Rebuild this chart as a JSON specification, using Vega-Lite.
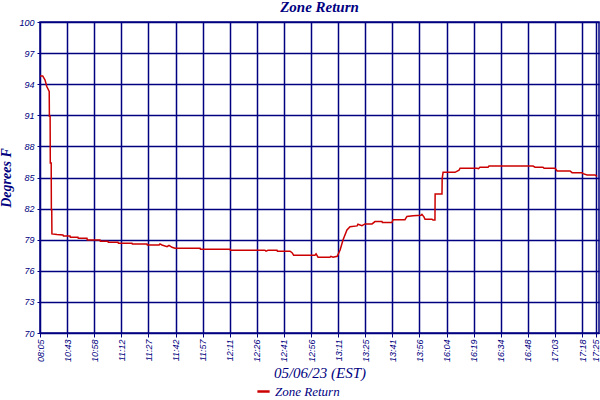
{
  "$schema": "https://vega.github.io/schema/vega-lite/v6.json",
  "autosize": "none",
  "width": 559,
  "height": 311,
  "padding": {"left": 40, "top": 22, "right": 1, "bottom": 67},
  "background": "white",
  "config": {
    "view": {"stroke": "#000080", "strokeWidth": 1.5},
    "axis": {
      "domainColor": "#000080",
      "gridColor": "#000080",
      "gridWidth": 1.5,
      "gridOpacity": 1,
      "tickColor": "#000080",
      "labelColor": "#000080",
      "labelFont": "Liberation Sans",
      "labelFontStyle": "italic",
      "labelFontSize": 9,
      "titleColor": "#000080",
      "titleFont": "Liberation Serif",
      "titleFontStyle": "italic",
      "titleFontWeight": "normal",
      "titleFontSize": 15
    }
  },
  "title": {
    "text": "Zone Return",
    "anchor": "middle",
    "font": "Liberation Serif",
    "fontStyle": "italic",
    "fontWeight": "bold",
    "fontSize": 15,
    "color": "#000080",
    "offset": 3
  },
  "data": {
    "values": [
      {"n": 0, "temp": 94.8},
      {"n": 1.5, "temp": 94.8},
      {"n": 2.8, "temp": 94.4},
      {"n": 3.7, "temp": 93.8},
      {"n": 5.1, "temp": 93.3},
      {"n": 5.2, "temp": 90.9},
      {"n": 5.6, "temp": 90.9},
      {"n": 5.7, "temp": 86.4},
      {"n": 6.2, "temp": 86.4},
      {"n": 6.3, "temp": 81.9},
      {"n": 6.5, "temp": 81.9},
      {"n": 6.6, "temp": 79.56},
      {"n": 9.4, "temp": 79.5},
      {"n": 12.7, "temp": 79.45},
      {"n": 13, "temp": 79.36},
      {"n": 16.6, "temp": 79.36},
      {"n": 16.8, "temp": 79.23},
      {"n": 21.0, "temp": 79.23},
      {"n": 21.2, "temp": 79.13},
      {"n": 26.0, "temp": 79.13},
      {"n": 26.2, "temp": 78.97},
      {"n": 33.2, "temp": 78.97},
      {"n": 33.4, "temp": 78.85},
      {"n": 37.6, "temp": 78.85},
      {"n": 37.8, "temp": 78.75},
      {"n": 43.2, "temp": 78.75},
      {"n": 43.4, "temp": 78.66},
      {"n": 50.9, "temp": 78.66},
      {"n": 51.1, "temp": 78.59},
      {"n": 59.2, "temp": 78.59},
      {"n": 59.4, "temp": 78.49},
      {"n": 65.9, "temp": 78.49},
      {"n": 66.4, "temp": 78.59},
      {"n": 67.5, "temp": 78.49},
      {"n": 70.3, "temp": 78.33},
      {"n": 71.4, "temp": 78.46},
      {"n": 73.1, "temp": 78.27},
      {"n": 74.7, "temp": 78.18},
      {"n": 88.6, "temp": 78.18},
      {"n": 88.8, "temp": 78.08},
      {"n": 105.2, "temp": 78.08},
      {"n": 105.4, "temp": 77.98},
      {"n": 124.5, "temp": 77.98},
      {"n": 125.1, "temp": 77.89},
      {"n": 126.2, "temp": 77.98},
      {"n": 131.2, "temp": 77.98},
      {"n": 131.4, "temp": 77.89},
      {"n": 138.4, "temp": 77.89},
      {"n": 139.5, "temp": 77.75},
      {"n": 140.4, "temp": 77.5},
      {"n": 152.2, "temp": 77.5},
      {"n": 152.8, "temp": 77.63},
      {"n": 153.9, "temp": 77.31},
      {"n": 160.5, "temp": 77.31},
      {"n": 161, "temp": 77.4},
      {"n": 162.2, "temp": 77.31},
      {"n": 164.5, "temp": 77.4},
      {"n": 166.1, "temp": 78.0},
      {"n": 167.7, "temp": 78.97},
      {"n": 169.9, "temp": 79.94},
      {"n": 171.6, "temp": 80.26},
      {"n": 175.5, "temp": 80.33},
      {"n": 176.0, "temp": 80.49},
      {"n": 178.2, "temp": 80.36},
      {"n": 179.9, "temp": 80.52},
      {"n": 183.8, "temp": 80.52},
      {"n": 185.4, "temp": 80.75},
      {"n": 189.3, "temp": 80.75},
      {"n": 189.5, "temp": 80.65},
      {"n": 194.8, "temp": 80.65},
      {"n": 195.4, "temp": 80.93},
      {"n": 202.0, "temp": 80.93},
      {"n": 203.1, "temp": 81.24},
      {"n": 206.5, "temp": 81.3},
      {"n": 210.9, "temp": 81.36},
      {"n": 211.4, "temp": 81.45},
      {"n": 212.5, "temp": 81.2},
      {"n": 213.1, "temp": 80.97},
      {"n": 217.0, "temp": 80.97},
      {"n": 217.5, "temp": 80.9},
      {"n": 218.6, "temp": 80.9},
      {"n": 218.7, "temp": 83.4},
      {"n": 222.5, "temp": 83.4},
      {"n": 222.6, "temp": 84.9},
      {"n": 223.1, "temp": 85.5},
      {"n": 229.7, "temp": 85.5},
      {"n": 231.9, "temp": 85.7},
      {"n": 232.5, "temp": 85.89},
      {"n": 241.9, "temp": 85.89},
      {"n": 242.7, "temp": 85.85},
      {"n": 243.5, "temp": 85.99},
      {"n": 248.0, "temp": 85.99},
      {"n": 248.5, "temp": 86.11},
      {"n": 272.9, "temp": 86.11},
      {"n": 274.0, "temp": 85.99},
      {"n": 278.4, "temp": 85.99},
      {"n": 279.0, "temp": 85.89},
      {"n": 285.1, "temp": 85.89},
      {"n": 286.2, "temp": 85.63},
      {"n": 293.4, "temp": 85.63},
      {"n": 294.5, "temp": 85.47},
      {"n": 300.0, "temp": 85.47},
      {"n": 300.6, "temp": 85.37},
      {"n": 302.8, "temp": 85.25},
      {"n": 307.2, "temp": 85.25},
      {"n": 308.3, "temp": 85.1}
    ]
  },
  "mark": {"type": "line", "strokeWidth": 1.5, "interpolate": "linear"},
  "encoding": {
    "x": {
      "field": "n",
      "type": "quantitative",
      "scale": {"domain": [0, 309.4], "nice": false, "zero": false},
      "axis": {
        "title": "05/06/23 (EST)",
        "values": [0, 15, 30, 45, 60, 75, 90, 105, 120, 135, 150, 165, 180, 195, 210, 225, 240, 255, 270, 285, 300, 307.6],
        "labelExpr": "['08:05','10:43','10:58','11:12','11:27','11:42','11:57','12:11','12:26','12:41','12:56','13:11','13:25','13:41','13:56','16:04','16:19','16:34','16:48','17:03','17:18','17:25'][round(datum.value / 15)]",
        "labelAngle": -90,
        "labelAlign": "right",
        "labelBaseline": "middle",
        "labelPadding": 2,
        "labelFlush": false,
        "labelOverlap": false,
        "tickSize": 4,
        "titlePadding": 4
      }
    },
    "y": {
      "field": "temp",
      "type": "quantitative",
      "scale": {"domain": [70, 100], "nice": false, "zero": false},
      "axis": {
        "title": "Degrees F",
        "titleFontSize": 14,
        "titleFontWeight": "bold",
        "values": [70, 73, 76, 79, 82, 85, 88, 91, 94, 97, 100],
        "labelFlush": false,
        "labelPadding": 3,
        "tickSize": 3,
        "titlePadding": 5
      }
    },
    "color": {
      "datum": "Zone Return",
      "type": "nominal",
      "scale": {"range": ["#CC0000"]},
      "legend": {
        "title": null,
        "orient": "none",
        "legendX": 216,
        "legendY": 362,
        "direction": "horizontal",
        "symbolType": "stroke",
        "symbolStrokeWidth": 2.5,
        "symbolSize": 150,
        "labelFont": "Liberation Serif",
        "labelFontStyle": "italic",
        "labelFontSize": 13,
        "labelColor": "#000080"
      }
    }
  }
}
